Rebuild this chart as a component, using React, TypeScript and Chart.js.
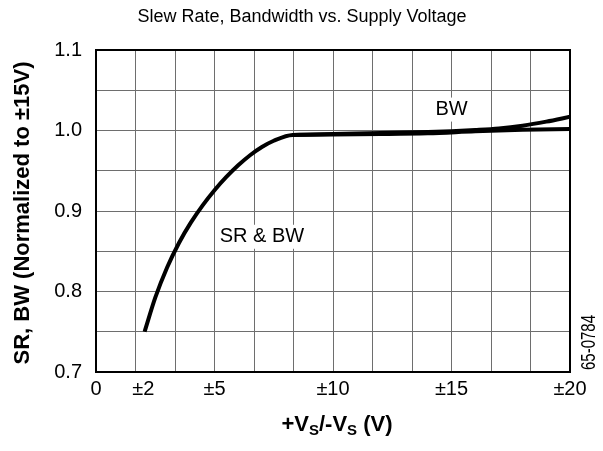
import React, { useEffect, useRef } from "react";
import { Chart, registerables } from "chart.js";

Chart.register(...registerables);

const TITLE = "Slew Rate, Bandwidth vs. Supply Voltage";
const Y_TITLE = "SR, BW (Normalized to ±15V)";
const X_TITLE_PARTS: [string, boolean][] = [
  ["+V", false],
  ["S", true],
  ["/-V", false],
  ["S", true],
  [" (V)", false],
];
const NOTE = "65-0784";

const X_MIN = 0;
const X_MAX = 20;
const X_TICK_VALUES = [0, 2, 5, 10, 15, 20];
const X_TICK_LABELS = ["0", "±2", "±5", "±10", "±15", "±20"];
const X_GRID_DIVISIONS = 12;

const Y_MIN = 0.7;
const Y_MAX = 1.1;
const Y_TICK_VALUES = [0.7, 0.75, 0.8, 0.85, 0.9, 0.95, 1.0, 1.05, 1.1];

// SR & BW common curve (continues as SR beyond the split)
const SR_X = [2.05, 2.5, 3.0, 3.5, 4.0, 4.5, 5.0, 5.5, 6.0, 6.5, 7.0, 7.5, 8.3, 10, 12, 14, 16, 18, 20];
const SR_Y = [0.75, 0.7923, 0.8298, 0.8603, 0.8855, 0.907, 0.9258, 0.9423, 0.9568, 0.9693, 0.9795, 0.9873, 0.9945, 0.995, 0.9955, 0.9965, 0.999, 1.001, 1.002];

// BW curve after the knee
const BW_X = [8.3, 10, 12, 14, 15, 16, 17, 18, 19, 20];
const BW_Y = [0.9945, 0.9955, 0.997, 0.998, 0.999, 1.0005, 1.0025, 1.006, 1.011, 1.017];

const LABEL_BW = { text: "BW", x: 15, y: 1.026 };
const LABEL_SRBW = { text: "SR & BW", x: 7.0, y: 0.868 };

const FONT = '"Liberation Sans", Arial, Helvetica, sans-serif';

const textPlugin = {
  id: "customText",
  beforeDatasetsDraw(chart: any) {
    const ctx = chart.ctx;
    const xs = chart.scales.x;
    const ys = chart.scales.y;
    ctx.save();
    ctx.font = `20px ${FONT}`;
    ctx.textAlign = "center";
    ctx.textBaseline = "middle";
    for (const l of [LABEL_BW, LABEL_SRBW]) {
      const px = xs.getPixelForValue(l.x);
      const py = ys.getPixelForValue(l.y);
      const w = ctx.measureText(l.text).width;
      ctx.fillStyle = "#fff";
      ctx.fillRect(px - w / 2 - 4, py - 12, w + 8, 24);
      ctx.fillStyle = "#000";
      ctx.fillText(l.text, px, py);
    }
    ctx.restore();
  },
  afterDraw(chart: any) {
    const ctx = chart.ctx;
    const a = chart.chartArea;
    ctx.save();
    // frame
    ctx.strokeStyle = "#000";
    ctx.lineWidth = 2;
    ctx.strokeRect(a.left, a.top, a.right - a.left, a.bottom - a.top);

    // title
    ctx.fillStyle = "#000";
    ctx.font = `18px ${FONT}`;
    ctx.textAlign = "center";
    ctx.textBaseline = "alphabetic";
    ctx.fillText(TITLE, 302, 22);

    // y title
    ctx.save();
    ctx.translate(23, (a.top + a.bottom) / 2 + 2);
    ctx.rotate(-Math.PI / 2);
    ctx.font = `bold 22px ${FONT}`;
    ctx.textAlign = "center";
    ctx.textBaseline = "middle";
    ctx.fillText(Y_TITLE, 0, 0);
    ctx.restore();

    // x title with subscripts
    const mainFont = `bold 22px ${FONT}`;
    const subFont = `bold 15px ${FONT}`;
    let total = 0;
    for (const [t, sub] of X_TITLE_PARTS) {
      ctx.font = sub ? subFont : mainFont;
      total += ctx.measureText(t).width;
    }
    let cx = (a.left + a.right) / 2 + 4 - total / 2;
    const base = 431;
    ctx.textAlign = "left";
    ctx.textBaseline = "alphabetic";
    for (const [t, sub] of X_TITLE_PARTS) {
      ctx.font = sub ? subFont : mainFont;
      ctx.fillText(t, cx, sub ? base + 4 : base);
      cx += ctx.measureText(t).width;
    }

    // figure number
    ctx.save();
    ctx.translate(589.5, 342.5);
    ctx.rotate(-Math.PI / 2);
    ctx.scale(0.75, 1);
    ctx.font = `20px ${FONT}`;
    ctx.textAlign = "center";
    ctx.textBaseline = "middle";
    ctx.fillText(NOTE, 0, 0);
    ctx.restore();

    ctx.restore();
  },
};

export default function App() {
  const ref = useRef<HTMLCanvasElement | null>(null);

  useEffect(() => {
    if (!ref.current) return;
    const lineStyle = {
      borderColor: "#000",
      borderWidth: 4,
      pointRadius: 0,
      fill: false,
      cubicInterpolationMode: "monotone" as const,
      borderCapStyle: "butt" as const,
      borderJoinStyle: "round" as const,
    };
    const chart = new Chart(ref.current, {
      type: "line",
      data: {
        datasets: [
          {
            label: "SR",
            data: SR_X.map((x, i) => ({ x, y: SR_Y[i] })),
            ...lineStyle,
          },
          {
            label: "BW",
            data: BW_X.map((x, i) => ({ x, y: BW_Y[i] })),
            ...lineStyle,
          },
        ],
      },
      options: {
        animation: false,
        responsive: false,
        maintainAspectRatio: false,
        layout: { padding: { left: 0, right: 33, top: 50, bottom: 0 } },
        plugins: {
          legend: { display: false },
          tooltip: { enabled: false },
          title: { display: false },
        },
        scales: {
          x: {
            type: "linear",
            position: "bottom",
            min: X_MIN,
            max: X_MAX,
            afterBuildTicks: (s: any) => {
              s.ticks = X_TICK_VALUES.map((v) => ({ value: v }));
            },
            afterFit: (s: any) => {
              s.height = 79;
            },
            ticks: {
              autoSkip: false,
              maxRotation: 0,
              padding: 5,
              color: "#000",
              font: { family: FONT, size: 20 },
              callback: (v: any) => {
                const i = X_TICK_VALUES.indexOf(Number(v));
                return i >= 0 ? X_TICK_LABELS[i] : "";
              },
            },
            grid: { display: false, drawTicks: false },
            border: { display: false },
          },
          xg: {
            type: "linear",
            position: "top",
            min: X_MIN,
            max: X_MAX,
            afterBuildTicks: (s: any) => {
              s.ticks = Array.from({ length: X_GRID_DIVISIONS + 1 }, (_, i) => ({
                value: X_MIN + ((X_MAX - X_MIN) * i) / X_GRID_DIVISIONS,
              }));
            },
            afterFit: (s: any) => {
              s.height = 0;
            },
            ticks: { display: false },
            grid: { color: "#6e6e6e", lineWidth: 1, drawTicks: false },
            border: { display: false },
          },
          y: {
            type: "linear",
            min: Y_MIN,
            max: Y_MAX,
            afterBuildTicks: (s: any) => {
              s.ticks = Y_TICK_VALUES.map((v) => ({ value: v }));
            },
            afterFit: (s: any) => {
              s.width = 96;
            },
            ticks: {
              autoSkip: false,
              padding: 14,
              color: "#000",
              font: { family: FONT, size: 20 },
              callback: (v: any, i: number) => (i % 2 === 0 ? Number(v).toFixed(1) : ""),
            },
            grid: { color: "#6e6e6e", lineWidth: 1, drawTicks: false },
            border: { display: false },
          },
        },
      } as any,
      plugins: [textPlugin],
    });
    return () => chart.destroy();
  }, []);

  return (
    <div style={{ position: "absolute", left: 0, top: 0, width: 603, height: 451, background: "#fff" }}>
      <canvas ref={ref} width={603} height={451} style={{ width: 603, height: 451 }} />
    </div>
  );
}
